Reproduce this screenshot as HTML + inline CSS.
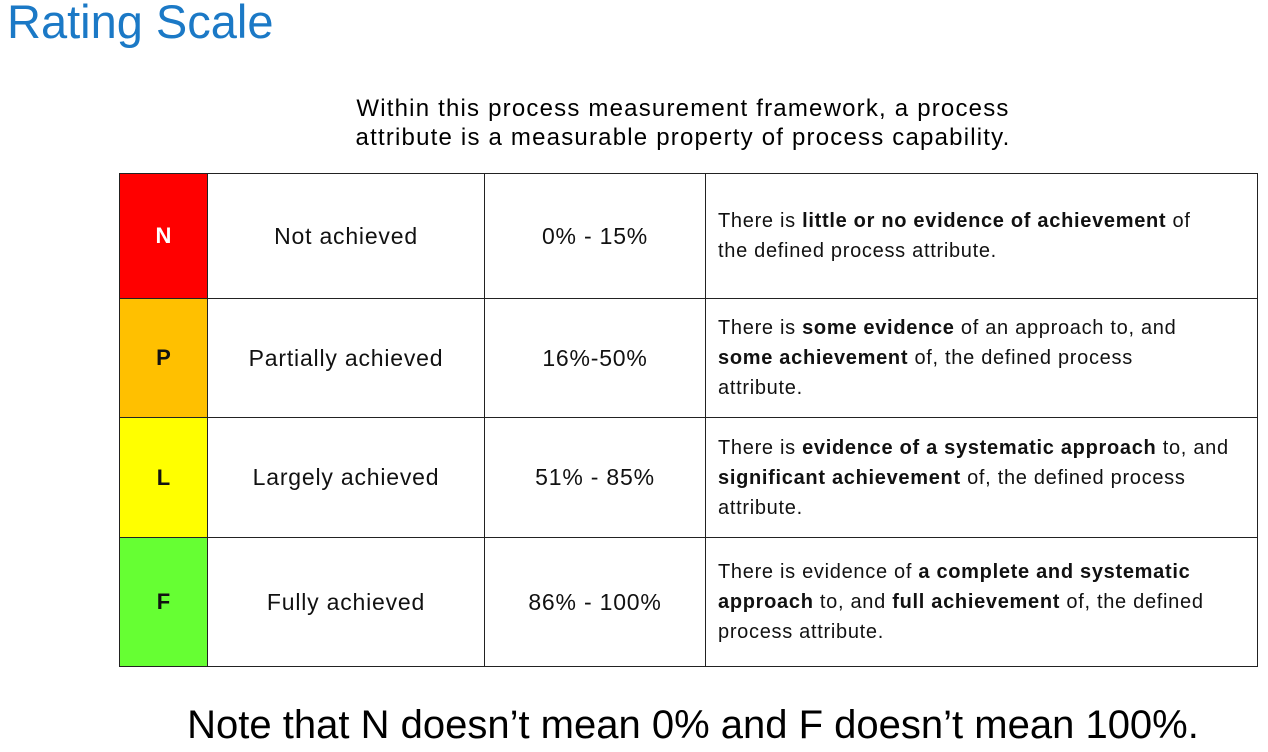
<!DOCTYPE html>
<html><head><meta charset="utf-8"><style>
body{margin:0;width:1268px;height:752px;background:#fff;position:relative;overflow:hidden;font-family:"Liberation Sans","DejaVu Sans",sans-serif;}
.abs{position:absolute;}
#title{left:7px;top:-6px;font-size:47px;color:#1b79c6;}
#sub{left:250px;width:866px;top:94px;text-align:center;font-size:24px;letter-spacing:1.2px;line-height:29px;color:#000;}
table{position:absolute;left:119px;top:173px;border-collapse:collapse;font-size:23px;letter-spacing:0.8px;color:#111;}
td{border:1.5px solid #222;padding:0;text-align:center;vertical-align:middle;}
td.code{font-weight:bold;font-size:22px;width:87px;letter-spacing:0;}
td.name{width:276px;}
td.pct{width:220px;}
td.desc{width:552px;text-align:left;font-size:20px;letter-spacing:0.7px;line-height:30px;padding-left:12px;box-sizing:border-box;white-space:nowrap;}
#note{left:0;width:1386px;top:703px;text-align:center;font-size:40px;color:#000;}
</style></head><body>
<div class="abs" id="title">Rating Scale</div>
<div class="abs" id="sub">Within this process measurement framework, a process<br>attribute is a measurable property of process capability.</div>
<table>
<tr style="height:125px">
<td class="code" style="background:#ff0000;color:#fff">N</td>
<td class="name">Not achieved</td>
<td class="pct">0% - 15%</td>
<td class="desc">There is <b>little or no evidence of achievement</b> of<br>the defined process attribute.</td></tr>
<tr style="height:119px">
<td class="code" style="background:#ffc000">P</td>
<td class="name">Partially achieved</td>
<td class="pct">16%-50%</td>
<td class="desc">There is <b>some evidence</b> of an approach to, and<br><b>some achievement</b> of, the defined process<br>attribute.</td></tr>
<tr style="height:120px">
<td class="code" style="background:#ffff00">L</td>
<td class="name">Largely achieved</td>
<td class="pct">51% - 85%</td>
<td class="desc">There is <b>evidence of a systematic approach</b> to, and<br><b>significant achievement</b> of, the defined process<br>attribute.</td></tr>
<tr style="height:129px">
<td class="code" style="background:#66ff33">F</td>
<td class="name">Fully achieved</td>
<td class="pct">86% - 100%</td>
<td class="desc">There is evidence of <b>a complete and systematic</b><br><b>approach</b> to, and <b>full achievement</b> of, the defined<br>process attribute.</td></tr>
</table>
<div class="abs" id="note">Note that N doesn’t mean 0% and F doesn’t mean 100%.</div>
</body></html>
